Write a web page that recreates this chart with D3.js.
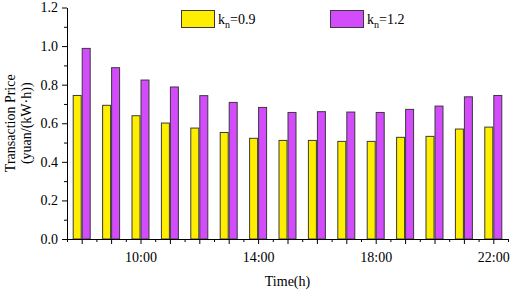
<!DOCTYPE html>
<html>
<head>
<meta charset="utf-8">
<script src="https://cdn.jsdelivr.net/npm/d3@7"></script>
<style>
  body { margin: 0; background: #fff; }
  svg { display: block; font-family: "Liberation Serif", "Times New Roman", serif; }
  .axis path, .axis line { stroke: #000; }
  .axis text { font-family: "Liberation Serif", "Times New Roman", serif; font-size: 14px; fill: #000; }
</style>
</head>
<body>
<div id="chart-container"></div>
<script>
// Hours of the day (8:00 .. 22:00)
const hours = [8, 9, 10, 11, 12, 13, 14, 15, 16, 17, 18, 19, 20, 21, 22];
const labeledHours = [10, 14, 18, 22];
const yTicks = [0, 0.2, 0.4, 0.6, 0.8, 1.0, 1.2];

// Series values
const price09 = [0.744, 0.693, 0.639, 0.601, 0.575, 0.552, 0.522, 0.511, 0.511, 0.506, 0.506, 0.527, 0.532, 0.570, 0.580];
const price12 = [0.988, 0.888, 0.824, 0.788, 0.743, 0.708, 0.682, 0.656, 0.660, 0.658, 0.656, 0.672, 0.689, 0.737, 0.744];

const seriesNames = ["0.9", "1.2"];
const colors = ["#ffee00", "#d24cfb"];

const width = 512, height = 291;
const margin = { left: 67, right: 4, top: 7.5, bottom: 52 };

const svg = d3.select("#chart-container")
  .append("svg")
  .attr("width", width)
  .attr("height", height);

const x = d3.scaleLinear()
  .domain([7.5, 22.5])
  .range([margin.left, width - margin.right]);

const y = d3.scaleLinear()
  .domain([0, 1.2])
  .range([height - margin.bottom, margin.top]);

const barW = 9;

// bars
const series = [price09, price12];
series.forEach((vals, s) => {
  svg.append("g")
    .selectAll("rect")
    .data(hours.map((h, i) => ({ h, v: vals[i] })))
    .enter().append("rect")
    .attr("x", d => x(d.h) - (s === 0 ? barW : 0) + 0.5)
    .attr("y", d => y(d.v))
    .attr("width", barW - 1)
    .attr("height", d => y(0) - y(d.v))
    .attr("fill", colors[s])
    .attr("stroke", "#3a3a3a")
    .attr("stroke-width", 1);
});

// minor ticks
const minorX = hours.map(h => h - 0.5).concat([22.5]);
svg.append("g")
  .attr("class", "axis")
  .attr("transform", "translate(0," + y(0) + ")")
  .call(d3.axisBottom(x).tickValues(minorX).tickSize(3).tickFormat(""))
  .call(g => g.select(".domain").remove());

const minorY = [0.1, 0.3, 0.5, 0.7, 0.9, 1.1];
svg.append("g")
  .attr("class", "axis")
  .attr("transform", "translate(" + margin.left + ",0)")
  .call(d3.axisLeft(y).tickValues(minorY).tickSize(3).tickFormat(""))
  .call(g => g.select(".domain").remove());

// main axes
svg.append("g")
  .attr("class", "axis")
  .attr("transform", "translate(0," + y(0) + ")")
  .call(d3.axisBottom(x)
    .tickValues(hours)
    .tickSize(5)
    .tickSizeOuter(0)
    .tickPadding(8)
    .tickFormat(h => labeledHours.includes(h) ? h + ":00" : ""));

svg.append("g")
  .attr("class", "axis")
  .attr("transform", "translate(" + margin.left + ",0)")
  .call(d3.axisLeft(y)
    .tickValues(yTicks)
    .tickSize(5)
    .tickSizeOuter(0)
    .tickPadding(4)
    .tickFormat(d3.format(".1f")));

// axis titles
svg.append("text")
  .attr("x", (x.range()[0] + x.range()[1]) / 2)
  .attr("y", 286)
  .attr("text-anchor", "middle")
  .style("font-size", "14px")
  .text("Time(h)");

const yTitle = svg.append("text")
  .attr("transform", "translate(0," + ((y.range()[0] + y.range()[1]) / 2) + ") rotate(-90)")
  .attr("text-anchor", "middle")
  .style("font-size", "14px");
yTitle.append("tspan").attr("x", 0).attr("y", 15).text("Transaction Price");
yTitle.append("tspan").attr("x", 0).attr("y", 31).text("(yuan/(kW\u00b7h))");

// legend
const legendX = [181, 330];
seriesNames.forEach((name, i) => {
  const g = svg.append("g").attr("transform", "translate(" + legendX[i] + ",10)");
  g.append("rect")
    .attr("x", 0.5).attr("y", 0.5)
    .attr("width", 33).attr("height", 17)
    .attr("fill", colors[i])
    .attr("stroke", "#3a3a3a");
  const t = g.append("text")
    .attr("x", 37)
    .attr("y", 14)
    .style("font-size", "14px");
  t.append("tspan").text("k");
  t.append("tspan").attr("dy", 4).style("font-size", "10px").text("n");
  t.append("tspan").attr("dy", -4).text("=" + name);
});
</script>
</body>
</html>
